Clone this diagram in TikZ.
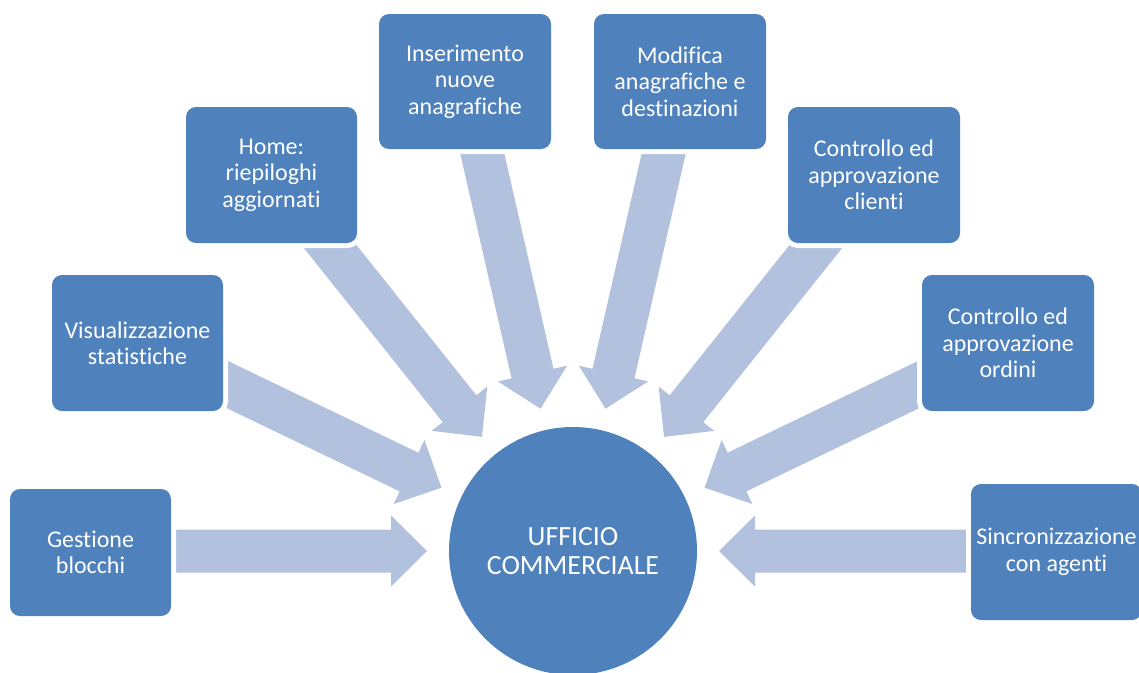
\documentclass[tikz,border=0pt]{standalone}
\usepackage{fontspec}
\setmainfont{Carlito}[Ligatures={NoCommon}]
\definecolor{boxblue}{HTML}{4F81BD}
\definecolor{arrowblue}{HTML}{B2C1DD}
\begin{document}
\begin{tikzpicture}[x=1pt,y=-1pt,
  box/.style={rectangle, rounded corners=10pt, fill=boxblue, text=white,
    inner sep=0pt, align=center, font=\fontsize{24}{26.5}\selectfont,
    preaction={draw=white, line width=10pt}},
  hub/.style={circle, fill=boxblue, text=white, inner sep=0pt,
    minimum size=248pt, align=center, font=\fontsize{27.8}{29}\selectfont},
  blockarrow/.style={fill=arrowblue}]
\clip (0,0) rectangle (1139,672);
\coordinate (c) at (573,551);
% block arrows pointing at the hub
\foreach \ang in {0,25.714,51.429,77.143,102.857,128.571,154.286,180}{
  \begin{scope}[shift={(c)}, rotate=\ang]
    \fill[blockarrow] (430,-21.5) -- (182,-21.5) -- (182,-35.5) -- (146,0)
      -- (182,35.5) -- (182,21.5) -- (430,21.5) -- cycle;
  \end{scope}
}
\node[box, minimum width=161pt, minimum height=127pt] (g) at (90.5,552.5) {Gestione\\blocchi};
\node[box, minimum width=171pt, minimum height=136pt] (v) at (137.5,343) {Visualizzazione\\statistiche};
\node[box, minimum width=171pt, minimum height=136pt] (h) at (271.5,175) {Home:\\riepiloghi\\aggiornati};
\node[box, minimum width=172pt, minimum height=135pt] (i) at (465,81.5) {Inserimento\\nuove\\anagrafiche};
\node[box, minimum width=172pt, minimum height=135pt] (m) at (680,81.5) {Modifica\\anagrafiche e\\destinazioni};
\node[box, minimum width=172pt, minimum height=136pt] (cc) at (874,175) {Controllo ed\\approvazione\\clienti};
\node[box, minimum width=172pt, minimum height=136pt] (co) at (1008,343) {Controllo ed\\approvazione\\ordini};
\node[box, minimum width=171pt, minimum height=136pt] (s) at (1056.5,552) {Sincronizzazione\\con agenti};
\node[hub] (hubnode) at (c) {UFFICIO\\COMMERCIALE};
\end{tikzpicture}
\end{document}
